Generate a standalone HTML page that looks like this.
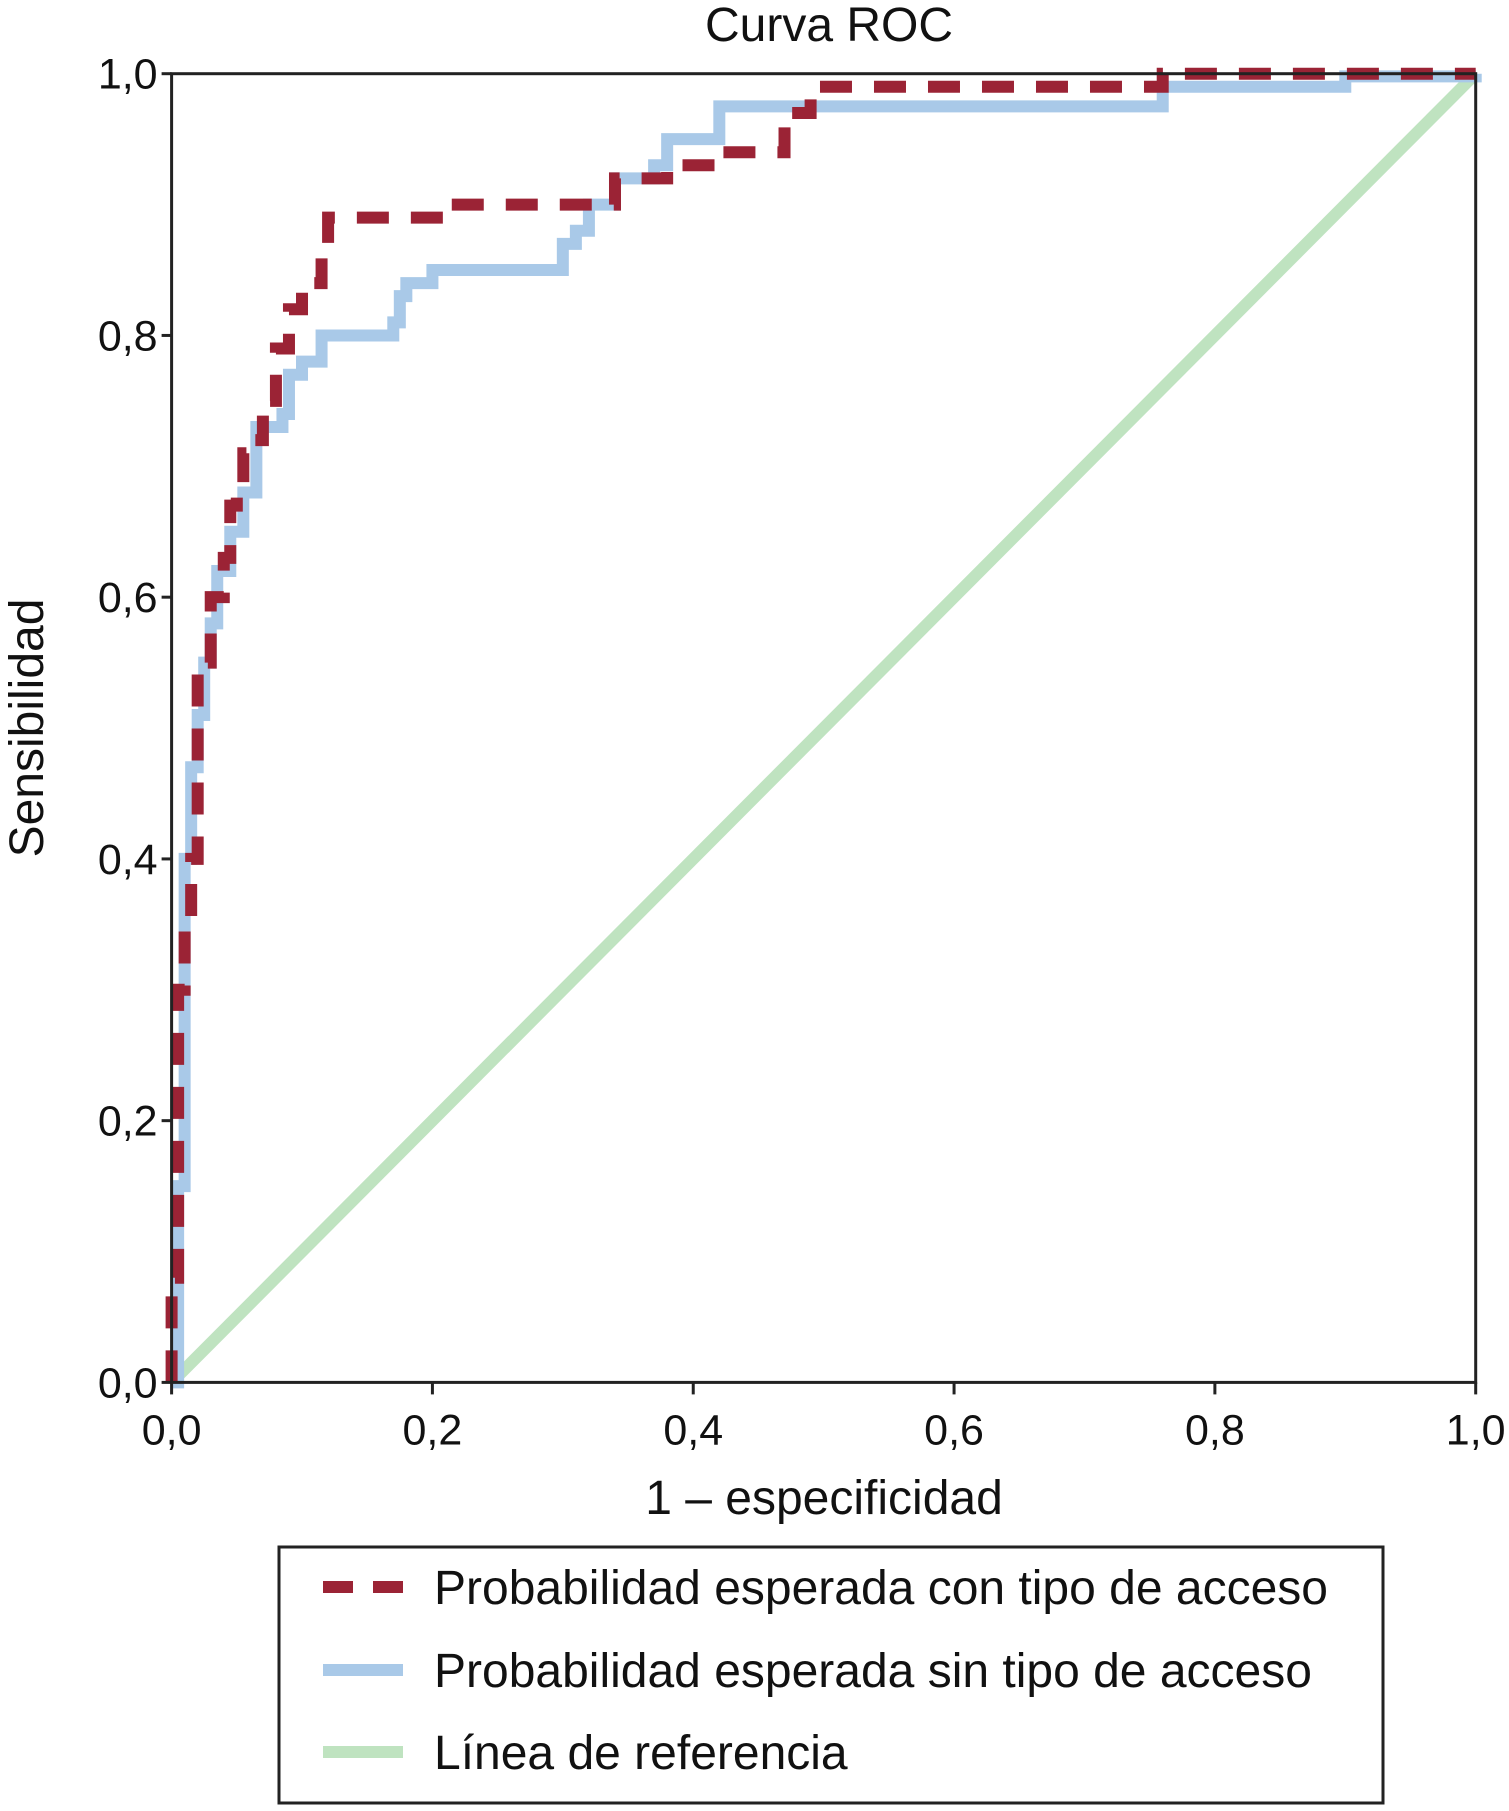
<!DOCTYPE html>
<html><head><meta charset="utf-8"><style>
body{margin:0;background:#fff;}
svg text{font-family:"Liberation Sans",sans-serif;fill:#111;}
</style></head><body>
<svg id="chart" width="1509" height="1806" viewBox="0 0 1509 1806" xmlns="http://www.w3.org/2000/svg">
<text x="829" y="41" font-size="48" text-anchor="middle">Curva ROC</text>
<g id="series"></g>
<rect x="171.6" y="73.7" width="1304.1" height="1308.7" fill="none" stroke="#222" stroke-width="3"/>
<g id="axes"></g>
<text transform="translate(43,728) rotate(-90)" font-size="48" text-anchor="middle">Sensibilidad</text>
<text x="824" y="1514" font-size="48" text-anchor="middle">1 – especificidad</text>
<g>
<rect x="279" y="1547" width="1104" height="256" fill="#fff" stroke="#222" stroke-width="3"/>
<line x1="323" y1="1587" x2="403" y2="1587" stroke="#9b2335" stroke-width="12" stroke-dasharray="30 20"/>
<text x="434" y="1604" font-size="48">Probabilidad esperada con tipo de acceso</text>
<line x1="323" y1="1670" x2="403" y2="1670" stroke="#a9c9e8" stroke-width="12"/>
<text x="434" y="1687" font-size="48">Probabilidad esperada sin tipo de acceso</text>
<line x1="323" y1="1752" x2="403" y2="1752" stroke="#bfe3c0" stroke-width="12"/>
<text x="434" y="1769" font-size="48">Línea de referencia</text>
</g>
</svg>
<script>
const ticks=[0,0.2,0.4,0.6,0.8,1.0];
const tickLabels=["0,0","0,2","0,4","0,6","0,8","1,0"];
const conX=[0,0,0.005,0.005,0.01,0.015,0.02,0.02,0.03,0.03,0.04,0.045,0.05,0.055,0.06,0.07,0.08,0.09,0.1,0.115,0.12,0.21,0.34,0.38,0.42,0.47,0.49,0.76,1];
const conY=[0,0.08,0.17,0.3,0.35,0.4,0.5,0.55,0.57,0.6,0.63,0.67,0.68,0.71,0.72,0.75,0.79,0.82,0.84,0.87,0.89,0.9,0.92,0.93,0.94,0.97,0.99,1,1];
const sinX=[0,0.005,0.01,0.01,0.015,0.02,0.025,0.03,0.035,0.045,0.055,0.065,0.085,0.09,0.1,0.115,0.17,0.175,0.18,0.2,0.3,0.31,0.32,0.34,0.37,0.38,0.42,0.76,0.9,1];
const sinY=[0,0.15,0.3,0.4,0.47,0.51,0.55,0.58,0.62,0.65,0.68,0.73,0.74,0.77,0.78,0.8,0.81,0.83,0.84,0.85,0.87,0.88,0.9,0.92,0.93,0.95,0.975,0.99,0.998,1];
const refX=[0,1], refY=[0,1];
const L=171.6,R=1475.7,T=73.7,B=1382.4;
const sx=v=>L+v*(R-L), sy=v=>B-v*(B-T);
const NS="http://www.w3.org/2000/svg";
const axes=document.getElementById('axes'), ser=document.getElementById('series');
ticks.forEach((t,i)=>{
 let l=document.createElementNS(NS,'line');
 
 
 l.setAttribute('x1',L-10);l.setAttribute('x2',L);l.setAttribute('y1',sy(t));l.setAttribute('y2',sy(t));l.setAttribute('stroke','#222');l.setAttribute('stroke-width','3');axes.appendChild(l);
 let tx=document.createElementNS(NS,'text');
 
 
 tx.setAttribute('x',L-14);tx.setAttribute('y',sy(t)+15);tx.setAttribute('font-size','43');tx.setAttribute('text-anchor','end');tx.textContent=tickLabels[i];axes.appendChild(tx);
 let l2=document.createElementNS(NS,'line');
 
 
 l2.setAttribute('x1',sx(t));l2.setAttribute('x2',sx(t));l2.setAttribute('y1',B);l2.setAttribute('y2',B+12);l2.setAttribute('stroke','#222');l2.setAttribute('stroke-width','3');axes.appendChild(l2);
 let tx2=document.createElementNS(NS,'text');
 
 
 tx2.setAttribute('x',sx(t));tx2.setAttribute('y',B+62);tx2.setAttribute('font-size','43');tx2.setAttribute('text-anchor','middle');tx2.textContent=tickLabels[i];axes.appendChild(tx2);
});
function stepLine(xs,ys,color,dash,name,step){
 let pts=[[xs[0],ys[0]]];
 for(let i=1;i<xs.length;i++){
  if(step)pts.push([xs[i],ys[i-1]]);
  pts.push([xs[i],ys[i]]);
 }
 let p=document.createElementNS(NS,'polyline');
 
 
 p.setAttribute('points',pts.map(q=>sx(q[0])+','+sy(q[1])).join(' '));
 p.setAttribute('fill','none');p.setAttribute('stroke',color);p.setAttribute('stroke-width','12');
 if(dash)p.setAttribute('stroke-dasharray',dash);
 ser.appendChild(p);
}
stepLine(refX,refY,'#bfe3c0',null,'reference-line',false);
stepLine(sinX,sinY,'#a9c9e8',null,'roc-sin-tipo-acceso',true);
stepLine(conX,conY,'#9b2335','32 22','roc-con-tipo-acceso',true);
</script>
</body></html>
